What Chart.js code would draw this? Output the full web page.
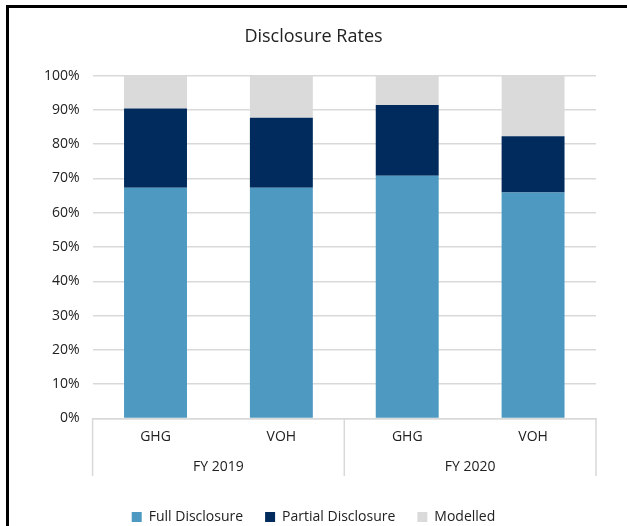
<!DOCTYPE html>
<html>
<head>
<meta charset="utf-8">
<script src="https://cdn.jsdelivr.net/npm/chart.js@4.4.1/dist/chart.umd.min.js"></script>
<style>
  html, body { margin: 0; padding: 0; background: #ffffff; }
  #wrap { position: relative; width: 627px; height: 526px; overflow: hidden; }
  #frame { position: absolute; left: 6px; top: 5px; right: -10px; bottom: -10px;
           border-left: 3px solid #000; border-top: 3px solid #000; }
  #c { position: absolute; left: 0; top: 0; }
</style>
</head>
<body>
<div id="wrap">
  <div id="frame"></div>
  <canvas id="c" width="627" height="526"></canvas>
</div>
<script>
const categories = ["GHG", "VOH", "GHG", "VOH"];
const yearGroups = ["FY 2019", "FY 2020"];
const fullDisclosure = [67.3, 67.3, 70.8, 65.9];
const partialDisclosure = [23.1, 20.4, 20.6, 16.4];
const modelled = [9.6, 12.3, 8.6, 17.7];
const yTicks = [0, 10, 20, 30, 40, 50, 60, 70, 80, 90, 100];

const FONT = "'Open Sans', sans-serif";
const GRID = '#D9D9D9';

// Group separator lines of the two-level category axis, placed via the x scale.
const groupSeparators = {
  id: 'groupSeparators',
  afterDraw(chart) {
    const x = chart.scales.x, x2 = chart.scales.x2;
    const ctx = chart.ctx;
    const n = categories.length;
    const half = (x.getPixelForValue(1) - x.getPixelForValue(0)) / 2;
    const positions = [];
    for (let i = 0; i <= n; i += 2) {
      positions.push(i < n ? x.getPixelForValue(i) - half : x.getPixelForValue(n - 1) + half);
    }
    ctx.save();
    ctx.strokeStyle = GRID;
    ctx.lineWidth = 1.5;
    ctx.beginPath();
    positions.forEach(p => {
      ctx.moveTo(p, x.top);
      ctx.lineTo(p, x2.bottom - 12);
    });
    ctx.stroke();
    ctx.restore();
  }
};

new Chart(document.getElementById('c'), {
  type: 'bar',
  data: {
    labels: categories,
    datasets: [
      { label: 'Full Disclosure', data: fullDisclosure, backgroundColor: '#4E99C1' },
      { label: 'Partial Disclosure', data: partialDisclosure, backgroundColor: '#002B5C' },
      { label: 'Modelled', data: modelled, backgroundColor: '#DADADA' }
    ]
  },
  plugins: [groupSeparators],
  options: {
    responsive: false,
    animation: false,
    datasets: { bar: { categoryPercentage: 1.0, barPercentage: 0.5 } },
    layout: { padding: { left: 31, right: 31, top: 16, bottom: -8 } },
    plugins: {
      title: {
        display: true, text: 'Disclosure Rates', color: '#222',
        font: { family: FONT, size: 18, weight: 'normal' },
        padding: { top: 10, bottom: 28 }
      },
      legend: {
        position: 'bottom',
        labels: {
          color: '#222', font: { family: FONT, size: 14 },
          boxWidth: 10, boxHeight: 10, padding: 22
        }
      },
      tooltip: { enabled: false }
    },
    scales: {
      x: {
        stacked: true,
        position: 'bottom',
        border: { display: true, color: GRID, width: 1.5 },
        grid: { display: false, drawTicks: false },
        ticks: { color: '#222', font: { family: FONT, size: 14 }, padding: 10 }
      },
      x2: {
        type: 'category',
        labels: yearGroups,
        position: 'bottom',
        offset: true,
        grid: { display: false, drawTicks: false },
        border: { display: false },
        ticks: { color: '#222', font: { family: FONT, size: 14 }, padding: 3 },
        afterFit: (scale) => { scale.height += 10; }
      },
      y: {
        stacked: true,
        min: 0, max: 100,
        afterBuildTicks: (scale) => { scale.ticks = yTicks.map(v => ({ value: v })); },
        border: { display: false },
        grid: { color: GRID, lineWidth: 1.5, drawTicks: false },
        ticks: { color: '#222', font: { family: FONT, size: 14 }, padding: 13,
                 callback: (v) => v + '%' }
      }
    }
  }
});
</script>
</body>
</html>
